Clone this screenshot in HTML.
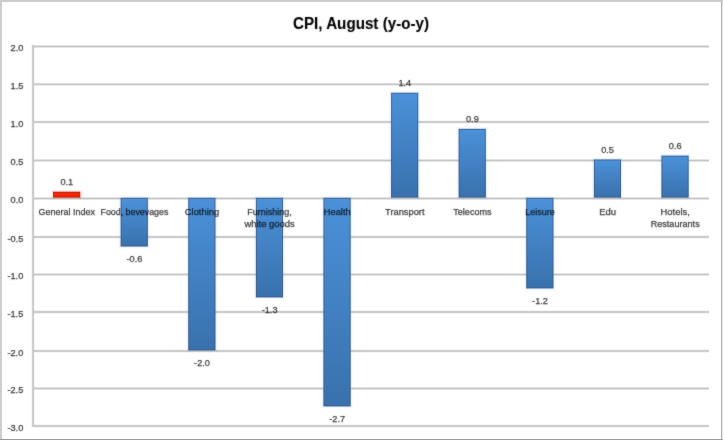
<!DOCTYPE html>
<html><head><meta charset="utf-8"><style>
html,body{margin:0;padding:0;background:#fff;}
body{width:723px;height:440px;overflow:hidden;font-family:"Liberation Sans", sans-serif;}
svg{display:block;}
</style></head><body>
<svg width="723" height="440" viewBox="0 0 723 440" shape-rendering="crispEdges">
<defs>
<linearGradient id="gb" x1="0" y1="0" x2="0" y2="1">
<stop offset="0" stop-color="#4b91d9"/>
<stop offset="1" stop-color="#3971ad"/>
</linearGradient>
<linearGradient id="gr" x1="0" y1="0" x2="0" y2="1">
<stop offset="0" stop-color="#f02a10"/>
<stop offset="0.5" stop-color="#fa2200"/>
<stop offset="1" stop-color="#e8240c"/>
</linearGradient>
<filter id="gs" x="-2%" y="-2%" width="104%" height="104%" color-interpolation-filters="sRGB"><feColorMatrix type="saturate" values="0"/><feConvolveMatrix order="3" kernelMatrix="1 2 1 2 20 2 1 2 1" preserveAlpha="false"/></filter>
</defs>
<rect x="0" y="0" width="723" height="440" fill="#fff"/>
<rect x="34" y="45" width="675" height="1" fill="#000" fill-opacity="0.106"/>
<rect x="34" y="46" width="675" height="1" fill="#000" fill-opacity="0.224"/>
<rect x="34" y="47" width="675" height="1" fill="#000" fill-opacity="0.106"/>
<rect x="34" y="82" width="675" height="1" fill="#000" fill-opacity="0.016"/>
<rect x="34" y="83" width="675" height="1" fill="#000" fill-opacity="0.142"/>
<rect x="34" y="84" width="675" height="1" fill="#000" fill-opacity="0.213"/>
<rect x="34" y="85" width="675" height="1" fill="#000" fill-opacity="0.079"/>
<rect x="34" y="120" width="675" height="1" fill="#000" fill-opacity="0.039"/>
<rect x="34" y="121" width="675" height="1" fill="#000" fill-opacity="0.196"/>
<rect x="34" y="122" width="675" height="1" fill="#000" fill-opacity="0.196"/>
<rect x="34" y="123" width="675" height="1" fill="#000" fill-opacity="0.039"/>
<rect x="34" y="159" width="675" height="1" fill="#000" fill-opacity="0.106"/>
<rect x="34" y="160" width="675" height="1" fill="#000" fill-opacity="0.224"/>
<rect x="34" y="161" width="675" height="1" fill="#000" fill-opacity="0.106"/>
<rect x="34" y="197" width="675" height="1" fill="#000" fill-opacity="0.106"/>
<rect x="34" y="198" width="675" height="1" fill="#000" fill-opacity="0.224"/>
<rect x="34" y="199" width="675" height="1" fill="#000" fill-opacity="0.106"/>
<rect x="34" y="235" width="675" height="1" fill="#000" fill-opacity="0.039"/>
<rect x="34" y="236" width="675" height="1" fill="#000" fill-opacity="0.196"/>
<rect x="34" y="237" width="675" height="1" fill="#000" fill-opacity="0.196"/>
<rect x="34" y="238" width="675" height="1" fill="#000" fill-opacity="0.039"/>
<rect x="34" y="273" width="675" height="1" fill="#000" fill-opacity="0.106"/>
<rect x="34" y="274" width="675" height="1" fill="#000" fill-opacity="0.224"/>
<rect x="34" y="275" width="675" height="1" fill="#000" fill-opacity="0.106"/>
<rect x="34" y="310" width="675" height="1" fill="#000" fill-opacity="0.039"/>
<rect x="34" y="311" width="675" height="1" fill="#000" fill-opacity="0.196"/>
<rect x="34" y="312" width="675" height="1" fill="#000" fill-opacity="0.196"/>
<rect x="34" y="313" width="675" height="1" fill="#000" fill-opacity="0.039"/>
<rect x="34" y="349" width="675" height="1" fill="#000" fill-opacity="0.039"/>
<rect x="34" y="350" width="675" height="1" fill="#000" fill-opacity="0.196"/>
<rect x="34" y="351" width="675" height="1" fill="#000" fill-opacity="0.196"/>
<rect x="34" y="352" width="675" height="1" fill="#000" fill-opacity="0.039"/>
<rect x="34" y="387" width="675" height="1" fill="#000" fill-opacity="0.106"/>
<rect x="34" y="388" width="675" height="1" fill="#000" fill-opacity="0.224"/>
<rect x="34" y="389" width="675" height="1" fill="#000" fill-opacity="0.106"/>
<rect x="34" y="424" width="675" height="1" fill="#000" fill-opacity="0.039"/>
<rect x="34" y="425" width="675" height="1" fill="#000" fill-opacity="0.196"/>
<rect x="34" y="426" width="675" height="1" fill="#000" fill-opacity="0.196"/>
<rect x="34" y="427" width="675" height="1" fill="#000" fill-opacity="0.039"/>
<rect x="31" y="45" width="1" height="382" fill="#000" fill-opacity="0.043"/>
<rect x="32" y="45" width="1" height="382" fill="#000" fill-opacity="0.184"/>
<rect x="33" y="45" width="1" height="382" fill="#000" fill-opacity="0.216"/>
<rect x="34" y="45" width="1" height="382" fill="#000" fill-opacity="0.027"/>
<g shape-rendering="geometricPrecision">
<rect x="51.13" y="189.80" width="31.04" height="9.70" fill="#f02a10" fill-opacity="0.05"/>
<rect x="52.13" y="190.80" width="29.04" height="7.70" fill="#f02a10" fill-opacity="0.12"/>
<rect x="53.13" y="191.80" width="27.04" height="5.70" fill="url(#gr)"/>
<rect x="53.63" y="192.30" width="26.04" height="4.70" fill="none" stroke="#a03020" stroke-opacity="0.6" stroke-width="1"/>
<rect x="118.73" y="195.90" width="31.04" height="52.50" fill="#4a8ed6" fill-opacity="0.05"/>
<rect x="119.73" y="196.90" width="29.04" height="50.50" fill="#4a8ed6" fill-opacity="0.12"/>
<rect x="120.73" y="197.90" width="27.04" height="48.50" fill="url(#gb)"/>
<rect x="121.23" y="198.40" width="26.04" height="47.50" fill="none" stroke="#4a5a78" stroke-opacity="0.6" stroke-width="1"/>
<rect x="186.33" y="195.90" width="31.04" height="156.40" fill="#4a8ed6" fill-opacity="0.05"/>
<rect x="187.33" y="196.90" width="29.04" height="154.40" fill="#4a8ed6" fill-opacity="0.12"/>
<rect x="188.33" y="197.90" width="27.04" height="152.40" fill="url(#gb)"/>
<rect x="188.83" y="198.40" width="26.04" height="151.40" fill="none" stroke="#4a5a78" stroke-opacity="0.6" stroke-width="1"/>
<rect x="253.93" y="195.90" width="31.04" height="103.40" fill="#4a8ed6" fill-opacity="0.05"/>
<rect x="254.93" y="196.90" width="29.04" height="101.40" fill="#4a8ed6" fill-opacity="0.12"/>
<rect x="255.93" y="197.90" width="27.04" height="99.40" fill="url(#gb)"/>
<rect x="256.43" y="198.40" width="26.04" height="98.40" fill="none" stroke="#4a5a78" stroke-opacity="0.6" stroke-width="1"/>
<rect x="321.53" y="195.90" width="31.04" height="212.40" fill="#4a8ed6" fill-opacity="0.05"/>
<rect x="322.53" y="196.90" width="29.04" height="210.40" fill="#4a8ed6" fill-opacity="0.12"/>
<rect x="323.53" y="197.90" width="27.04" height="208.40" fill="url(#gb)"/>
<rect x="324.03" y="198.40" width="26.04" height="207.40" fill="none" stroke="#4a5a78" stroke-opacity="0.6" stroke-width="1"/>
<rect x="389.13" y="90.80" width="31.04" height="108.70" fill="#4a8ed6" fill-opacity="0.05"/>
<rect x="390.13" y="91.80" width="29.04" height="106.70" fill="#4a8ed6" fill-opacity="0.12"/>
<rect x="391.13" y="92.80" width="27.04" height="104.70" fill="url(#gb)"/>
<rect x="391.63" y="93.30" width="26.04" height="103.70" fill="none" stroke="#4a5a78" stroke-opacity="0.6" stroke-width="1"/>
<rect x="456.73" y="126.90" width="31.04" height="72.60" fill="#4a8ed6" fill-opacity="0.05"/>
<rect x="457.73" y="127.90" width="29.04" height="70.60" fill="#4a8ed6" fill-opacity="0.12"/>
<rect x="458.73" y="128.90" width="27.04" height="68.60" fill="url(#gb)"/>
<rect x="459.23" y="129.40" width="26.04" height="67.60" fill="none" stroke="#4a5a78" stroke-opacity="0.6" stroke-width="1"/>
<rect x="524.33" y="195.90" width="31.04" height="94.40" fill="#4a8ed6" fill-opacity="0.05"/>
<rect x="525.33" y="196.90" width="29.04" height="92.40" fill="#4a8ed6" fill-opacity="0.12"/>
<rect x="526.33" y="197.90" width="27.04" height="90.40" fill="url(#gb)"/>
<rect x="526.83" y="198.40" width="26.04" height="89.40" fill="none" stroke="#4a5a78" stroke-opacity="0.6" stroke-width="1"/>
<rect x="591.93" y="157.60" width="31.04" height="41.90" fill="#4a8ed6" fill-opacity="0.05"/>
<rect x="592.93" y="158.60" width="29.04" height="39.90" fill="#4a8ed6" fill-opacity="0.12"/>
<rect x="593.93" y="159.60" width="27.04" height="37.90" fill="url(#gb)"/>
<rect x="594.43" y="160.10" width="26.04" height="36.90" fill="none" stroke="#4a5a78" stroke-opacity="0.6" stroke-width="1"/>
<rect x="659.53" y="153.70" width="31.04" height="45.80" fill="#4a8ed6" fill-opacity="0.05"/>
<rect x="660.53" y="154.70" width="29.04" height="43.80" fill="#4a8ed6" fill-opacity="0.12"/>
<rect x="661.53" y="155.70" width="27.04" height="41.80" fill="url(#gb)"/>
<rect x="662.03" y="156.20" width="26.04" height="40.80" fill="none" stroke="#4a5a78" stroke-opacity="0.6" stroke-width="1"/>
</g>
<g filter="url(#gs)" font-family='"Liberation Sans", sans-serif' shape-rendering="geometricPrecision">
<text x="23.30" y="51.00" text-anchor="end" font-size="9.2" fill="#000" stroke="#000" stroke-width="0.25" opacity="0.8">2.0</text>
<text x="23.30" y="88.80" text-anchor="end" font-size="9.2" fill="#000" stroke="#000" stroke-width="0.25" opacity="0.8">1.5</text>
<text x="23.30" y="126.50" text-anchor="end" font-size="9.2" fill="#000" stroke="#000" stroke-width="0.25" opacity="0.8">1.0</text>
<text x="23.30" y="165.00" text-anchor="end" font-size="9.2" fill="#000" stroke="#000" stroke-width="0.25" opacity="0.8">0.5</text>
<text x="23.30" y="203.00" text-anchor="end" font-size="9.2" fill="#000" stroke="#000" stroke-width="0.25" opacity="0.8">0.0</text>
<text x="23.30" y="241.50" text-anchor="end" font-size="9.2" fill="#000" stroke="#000" stroke-width="0.25" opacity="0.8">-0.5</text>
<text x="23.30" y="279.00" text-anchor="end" font-size="9.2" fill="#000" stroke="#000" stroke-width="0.25" opacity="0.8">-1.0</text>
<text x="23.30" y="316.50" text-anchor="end" font-size="9.2" fill="#000" stroke="#000" stroke-width="0.25" opacity="0.8">-1.5</text>
<text x="23.30" y="355.50" text-anchor="end" font-size="9.2" fill="#000" stroke="#000" stroke-width="0.25" opacity="0.8">-2.0</text>
<text x="23.30" y="393.00" text-anchor="end" font-size="9.2" fill="#000" stroke="#000" stroke-width="0.25" opacity="0.8">-2.5</text>
<text x="23.30" y="430.50" text-anchor="end" font-size="9.2" fill="#000" stroke="#000" stroke-width="0.25" opacity="0.8">-3.0</text>
<text x="66.80" y="214.60" text-anchor="middle" font-size="9.3" textLength="56.7" lengthAdjust="spacingAndGlyphs" fill="#000" stroke="#000" stroke-width="0.25" opacity="0.8">General Index</text>
<text x="134.40" y="214.60" text-anchor="middle" font-size="9.3" textLength="67.8" lengthAdjust="spacingAndGlyphs" fill="#000" stroke="#000" stroke-width="0.25" opacity="0.8">Food, bevevages</text>
<text x="202.00" y="214.60" text-anchor="middle" font-size="9.3" textLength="34.4" lengthAdjust="spacingAndGlyphs" fill="#000" stroke="#000" stroke-width="0.25" opacity="0.8">Clothing</text>
<text x="269.60" y="214.60" text-anchor="middle" font-size="9.3" textLength="44.5" lengthAdjust="spacingAndGlyphs" fill="#000" stroke="#000" stroke-width="0.25" opacity="0.8">Furnishing,</text>
<text x="269.60" y="227.20" text-anchor="middle" font-size="9.3" textLength="50.3" lengthAdjust="spacingAndGlyphs" fill="#000" stroke="#000" stroke-width="0.25" opacity="0.8">white goods</text>
<text x="337.20" y="214.60" text-anchor="middle" font-size="9.3" textLength="26.9" lengthAdjust="spacingAndGlyphs" fill="#000" stroke="#000" stroke-width="0.25" opacity="0.8">Health</text>
<text x="404.80" y="214.60" text-anchor="middle" font-size="9.3" textLength="39.5" lengthAdjust="spacingAndGlyphs" fill="#000" stroke="#000" stroke-width="0.25" opacity="0.8">Transport</text>
<text x="472.40" y="214.60" text-anchor="middle" font-size="9.3" textLength="38.1" lengthAdjust="spacingAndGlyphs" fill="#000" stroke="#000" stroke-width="0.25" opacity="0.8">Telecoms</text>
<text x="540.00" y="214.60" text-anchor="middle" font-size="9.3" textLength="29.3" lengthAdjust="spacingAndGlyphs" fill="#000" stroke="#000" stroke-width="0.25" opacity="0.8">Leisure</text>
<text x="607.60" y="214.60" text-anchor="middle" font-size="9.3" textLength="16.8" lengthAdjust="spacingAndGlyphs" fill="#000" stroke="#000" stroke-width="0.25" opacity="0.8">Edu</text>
<text x="675.20" y="214.60" text-anchor="middle" font-size="9.3" textLength="29.2" lengthAdjust="spacingAndGlyphs" fill="#000" stroke="#000" stroke-width="0.25" opacity="0.8">Hotels,</text>
<text x="675.20" y="227.20" text-anchor="middle" font-size="9.3" textLength="49.0" lengthAdjust="spacingAndGlyphs" fill="#000" stroke="#000" stroke-width="0.25" opacity="0.8">Restaurants</text>
<text x="66.80" y="185.30" text-anchor="middle" font-size="9.2" fill="#000" stroke="#000" stroke-width="0.25" opacity="0.8">0.1</text>
<text x="134.40" y="262.40" text-anchor="middle" font-size="9.2" fill="#000" stroke="#000" stroke-width="0.25" opacity="0.8">-0.6</text>
<text x="202.00" y="366.30" text-anchor="middle" font-size="9.2" fill="#000" stroke="#000" stroke-width="0.25" opacity="0.8">-2.0</text>
<text x="269.60" y="313.30" text-anchor="middle" font-size="9.2" fill="#000" stroke="#000" stroke-width="0.25" opacity="0.8">-1.3</text>
<text x="337.20" y="422.30" text-anchor="middle" font-size="9.2" fill="#000" stroke="#000" stroke-width="0.25" opacity="0.8">-2.7</text>
<text x="404.80" y="86.30" text-anchor="middle" font-size="9.2" fill="#000" stroke="#000" stroke-width="0.25" opacity="0.8">1.4</text>
<text x="472.40" y="122.40" text-anchor="middle" font-size="9.2" fill="#000" stroke="#000" stroke-width="0.25" opacity="0.8">0.9</text>
<text x="540.00" y="304.30" text-anchor="middle" font-size="9.2" fill="#000" stroke="#000" stroke-width="0.25" opacity="0.8">-1.2</text>
<text x="607.60" y="153.10" text-anchor="middle" font-size="9.2" fill="#000" stroke="#000" stroke-width="0.25" opacity="0.8">0.5</text>
<text x="675.20" y="149.20" text-anchor="middle" font-size="9.2" fill="#000" stroke="#000" stroke-width="0.25" opacity="0.8">0.6</text>
<text x="361.00" y="28.80" text-anchor="middle" font-size="16" font-weight="bold" textLength="136" lengthAdjust="spacingAndGlyphs" fill="#000" stroke="#000" stroke-width="0.1">CPI, August (y-o-y)</text>
</g>
<rect x="0" y="0" width="723" height="2" fill="#cdcdcd"/>
<rect x="0" y="0" width="2" height="440" fill="#cdcdcd"/>
<rect x="721" y="1" width="1" height="440" fill="#b0b0b0"/>
<rect x="722" y="2" width="1" height="440" fill="#e8e8e8"/>
<rect x="0" y="439" width="723" height="1" fill="#9a9a9a"/>
</svg>
</body></html>
